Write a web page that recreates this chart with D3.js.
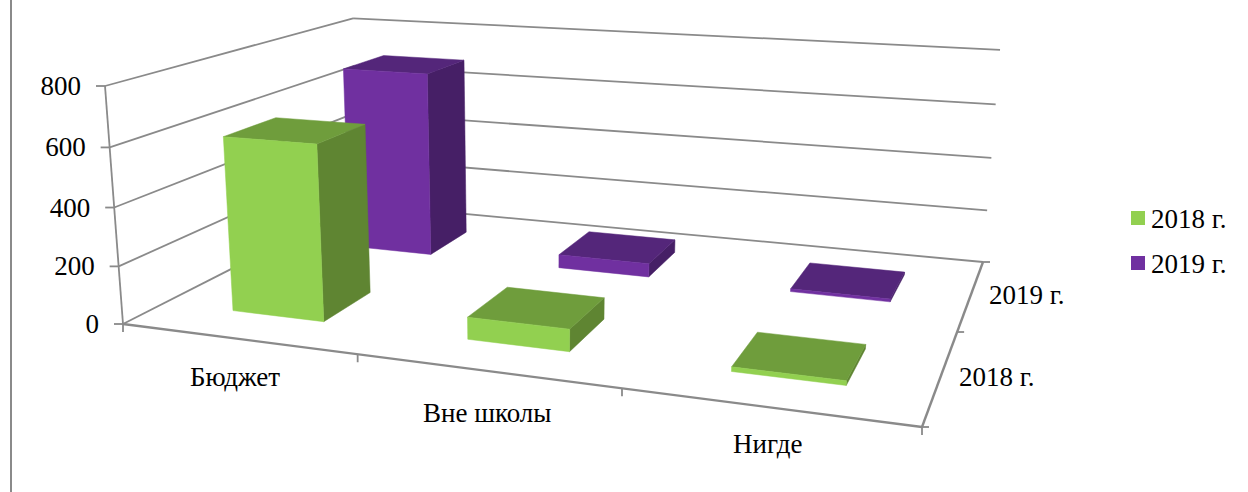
<!DOCTYPE html>
<html>
<head>
<meta charset="utf-8">
<script src="https://d3js.org/d3.v7.min.js"></script>
<style>
  html, body { margin: 0; padding: 0; background: #fff; }
  svg { display: block; }
  text { font-family: "Liberation Serif", serif; font-size: 27px; fill: #000; }
</style>
</head>
<body>
<div id="chart"></div>
<script>
// data
var categories = ["Бюджет", "Вне школы", "Нигде"]
var seriesNames = ["2018 г.", "2019 г."]
var values2018 = [605, 75, 15]
var values2019 = [697, 50, 10]
var valueTicks = [0, 200, 400, 600, 800]

var frontColors = ["#92D050", "#7030A0"]
var topColors = ["#6F9D3C", "#54267A"]
var sideColors = ["#5F8532", "#461F66"]
var axisColor = "#8A8A8A"

var width = 1248, height = 492

// box corners on screen, used to build the perspective
var O = [123, 324, 1]     // front left floor
var X = [922, 427, 1]     // front right floor
var Y = [105, 86, 1]      // front left top
var Z = [359, 204, 1]     // back left floor
var XZ = [983, 262, 1]    // back right floor
var YZ = [353, 16, 1]     // back left top

function det(a, b, c) {
  return a[0] * (b[1] * c[2] - b[2] * c[1])
       - b[0] * (a[1] * c[2] - a[2] * c[1])
       + c[0] * (a[1] * b[2] - a[2] * b[1])
}
// solve p*a + q*b + r*c = d
function solve(a, b, c, d) {
  var D = det(a, b, c)
  return [det(d, b, c) / D, det(a, d, c) / D, det(a, b, d) / D]
}
function scaled(v, k) { return v.map(function(d) { return d * k }) }
function minus(a, b) { return a.map(function(d, i) { return d - b[i] }) }

var s1 = solve(X, Z, XZ, O)
var s2 = solve(Y, Z, YZ, O)
var A = minus(scaled(X, s1[0]), O)
var C = minus(scaled(Z, s1[1]), O)
var B = minus(scaled(Y, s2[0]), O)

function project(u, v, w) {
  var p = O.map(function(d, i) { return d + u * A[i] + v * B[i] + w * C[i] })
  return [p[0] / p[2], p[1] / p[2]]
}

// scales go to unit cube coordinates
var x = d3.scaleBand().domain(categories).range([0.003, 1.003]).paddingInner(0.6).paddingOuter(0.3)
var y = d3.scaleLinear().domain([0, 800]).range([0, 1])
var z = d3.scaleBand().domain(seriesNames).range([-0.005, 0.995]).paddingInner(0.6).paddingOuter(0.3)

var svg = d3.select("#chart").append("svg")
  .attr("width", width)
  .attr("height", height)

var line = d3.line()

function seg(p, q, sw) {
  svg.append("path")
    .attr("d", line([p, q]))
    .attr("fill", "none")
    .attr("stroke", axisColor)
    .attr("stroke-width", sw || 1.8)
}

// frame line on the left of the picture
seg([11, 0], [11, height], 2)

// gridlines on the walls
valueTicks.forEach(function(t) {
  seg(project(0, y(t), 0), project(0, y(t), 1))
  seg(project(0, y(t), 1), project(1, y(t), 1))
  var p = project(0, y(t), 0)
  seg([p[0] - 9, p[1]], p)
  svg.append("text")
    .attr("x", p[0] - 24)
    .attr("y", p[1] + 9)
    .attr("text-anchor", "end")
    .text(t)
})

// front and right floor edges
seg(project(0, 0, 0), project(0, 1, 0))
seg(project(0, 0, 0), project(1, 0, 0), 2.4)
seg(project(1, 0, 0), project(1, 0, 1), 2.4)

// ticks under the category axis
d3.range(categories.length + 1).forEach(function(i) {
  var p = project(i / categories.length, 0, 0)
  seg(p, [p[0], p[1] + 8])
})
// ticks on the depth axis
d3.range(seriesNames.length + 1).forEach(function(i) {
  var p = project(1, 0, i / seriesNames.length)
  seg(p, [p[0] + 7, p[1]])
})

// bars, back series first
function poly(pts, color) {
  svg.append("path")
    .attr("d", line(pts) + "Z")
    .attr("fill", color)
    .attr("stroke", color)
    .attr("stroke-width", 0.5)
}
var allValues = [values2018, values2019]
d3.range(seriesNames.length - 1, -1, -1).forEach(function(s) {
  categories.forEach(function(cat, i) {
    var x0 = x(cat), x1 = x0 + x.bandwidth()
    var z0 = z(seriesNames[s]), z1 = z0 + z.bandwidth()
    var h = y(allValues[s][i])
    poly([project(x1, 0, z0), project(x1, 0, z1), project(x1, h, z1), project(x1, h, z0)], sideColors[s])
    poly([project(x0, h, z0), project(x1, h, z0), project(x1, h, z1), project(x0, h, z1)], topColors[s])
    poly([project(x0, 0, z0), project(x1, 0, z0), project(x1, h, z0), project(x0, h, z0)], frontColors[s])
  })
})

// category labels
var catLabelPos = [[190, 386], [423, 422], [733, 453]]
categories.forEach(function(cat, i) {
  svg.append("text").attr("x", catLabelPos[i][0]).attr("y", catLabelPos[i][1]).text(cat)
})
// depth labels
var depthLabelPos = [[959, 386], [989, 304]]
seriesNames.forEach(function(s, i) {
  svg.append("text").attr("x", depthLabelPos[i][0]).attr("y", depthLabelPos[i][1]).text(s)
})

// legend
seriesNames.forEach(function(s, i) {
  var ly = 211 + i * 45
  svg.append("rect").attr("x", 1131).attr("y", ly).attr("width", 14).attr("height", 14).attr("fill", frontColors[i])
  svg.append("text").attr("x", 1151).attr("y", ly + 17).text(s)
})
</script>
</body>
</html>
